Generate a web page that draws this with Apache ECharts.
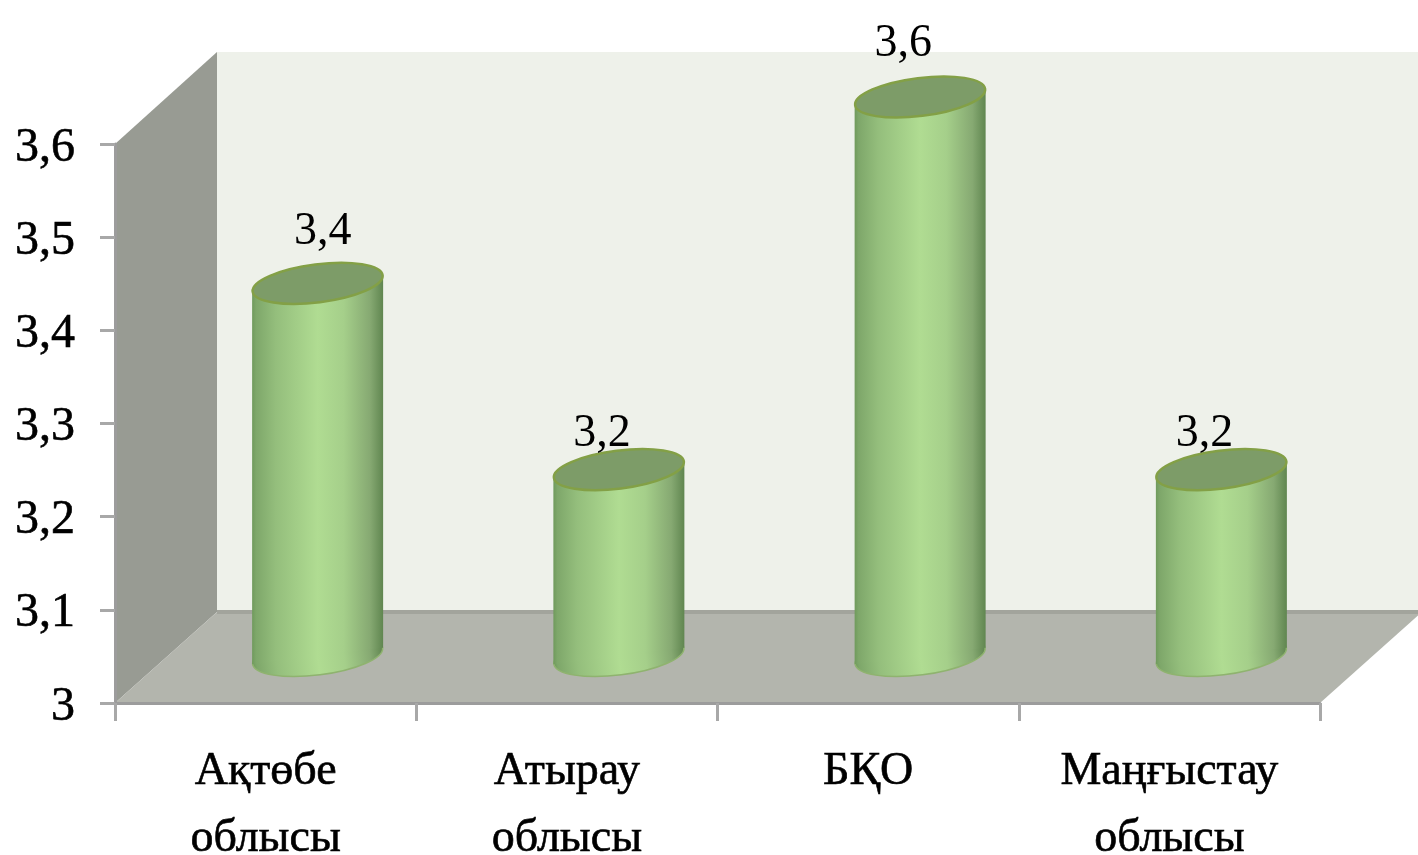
<!DOCTYPE html>
<html>
<head>
<meta charset="utf-8">
<title>chart</title>
<style>
  html, body { margin: 0; padding: 0; background: #fff; }
  #chart { width: 1418px; height: 855px; filter: blur(0.6px); }
</style>
<script src="https://cdn.jsdelivr.net/npm/echarts@6/dist/echarts.min.js"></script>
</head>
<body>
<div id="chart"></div>
<script>
var categories = ['Ақтөбе\nоблысы', 'Атырау\nоблысы', 'БҚО', 'Маңғыстау\nоблысы'];
var values = [3.4, 3.2, 3.6, 3.2];
var valueLabels = ['3,4', '3,2', '3,6', '3,2'];
var yTickLabels = ['3', '3,1', '3,2', '3,3', '3,4', '3,5', '3,6'];

var FONT = '"Liberation Serif", "Times New Roman", serif';
var DEPTH_X = 102, DEPTH_Y = 91;
// bars stand half way into the floor
var BAR_DX = 52, BAR_DY = 47;
var ELL_A = 65.5, ELL_B = 19, ELL_TILT = 7.2 * Math.PI / 180;
// the value labels are not centred over the bars in the original
var labelShift = [[5, -51], [-17, -36], [-17, -53], [-17, -36]];

function bodyFill(x0, x1) {
  return new echarts.graphic.LinearGradient(x0, 0, x1, 0, [
    { offset: 0, color: '#6f9a5c' },
    { offset: 0.03, color: '#7ea76a' },
    { offset: 0.18, color: '#94be7c' },
    { offset: 0.5, color: '#b0dc92' },
    { offset: 0.7, color: '#a5cf8a' },
    { offset: 0.9, color: '#86a972' },
    { offset: 1, color: '#608650' }
  ], true);
}

function renderWalls(params, api) {
  var g = params.coordSys;
  var l = g.x, t = g.y, r = g.x + g.width, b = g.y + g.height;
  return {
    type: 'group',
    children: [
      { type: 'polygon', shape: { points: [[l + DEPTH_X, t - DEPTH_Y - 1], [r + DEPTH_X, t - DEPTH_Y - 1], [r + DEPTH_X, b - DEPTH_Y], [l + DEPTH_X, b - DEPTH_Y]] },
        style: { fill: '#eef1ea' } },
      { type: 'polygon', shape: { points: [[l, t], [l + DEPTH_X, t - DEPTH_Y - 1], [l + DEPTH_X, b - DEPTH_Y], [l, b]] },
        style: { fill: '#989b93' } },
      { type: 'polygon', shape: { points: [[l, b], [l + DEPTH_X, b - DEPTH_Y], [r + DEPTH_X, b - DEPTH_Y], [r, b]] },
        style: { fill: '#b3b5ad' } },
      { type: 'line', shape: { x1: l + DEPTH_X, y1: b - DEPTH_Y, x2: r + DEPTH_X, y2: b - DEPTH_Y },
        style: { stroke: '#a2a49c', lineWidth: 4 } }
    ]
  };
}

function renderCylinder(params, api) {
  var i = api.value(0);
  var top = api.coord([i, api.value(1)]);
  var base = api.coord([i, 3]);
  var cx = top[0] + BAR_DX;
  var yTop = top[1] - BAR_DY;
  var yBase = base[1] - BAR_DY;
  var dy = ELL_A * Math.tan(ELL_TILT);
  var shift = labelShift[i];
  return {
    type: 'group',
    children: [
      { type: 'ellipse', x: cx, y: yBase, rotation: ELL_TILT,
        shape: { cx: 0, cy: 0, rx: ELL_A, ry: ELL_B },
        style: { fill: bodyFill(-ELL_A, ELL_A), stroke: '#8fb36f', lineWidth: 1.5 } },
      { type: 'polygon',
        shape: { points: [[cx - ELL_A, yTop + dy], [cx + ELL_A, yTop - dy], [cx + ELL_A, yBase - dy], [cx - ELL_A, yBase + dy]] },
        style: { fill: bodyFill(cx - ELL_A, cx + ELL_A) } },
      { type: 'ellipse', x: cx, y: yTop, rotation: ELL_TILT,
        shape: { cx: 0, cy: 0, rx: ELL_A, ry: ELL_B },
        style: { fill: '#7d9c68', stroke: '#83a046', lineWidth: 2.5 } },
      { type: 'text',
        style: { text: valueLabels[i], x: cx + shift[0], y: yTop + shift[1], fill: '#000',
          font: '46px ' + FONT, align: 'center', verticalAlign: 'middle' } }
    ]
  };
}

var chart = echarts.init(document.getElementById('chart'));
chart.setOption({
  animation: false,
  backgroundColor: '#fff',
  grid: { left: 115, top: 144, width: 1205, height: 559, containLabel: false, outerBoundsMode: 'none' },
  xAxis: {
    type: 'category',
    data: categories,
    axisLine: { show: true, lineStyle: { color: '#9c9c9c', width: 3 } },
    axisTick: { show: true, length: 18, lineStyle: { color: '#a8a8a8', width: 3 } },
    axisLabel: { color: '#000', fontFamily: FONT, fontSize: 46, lineHeight: 67, margin: 35, interval: 0,
      textBorderColor: '#000', textBorderWidth: 0.6 }
  },
  yAxis: {
    type: 'value',
    min: 3,
    max: 3.6,
    interval: 0.1,
    splitLine: { show: false },
    axisLine: { show: true, lineStyle: { color: '#9c9c9c', width: 3 } },
    axisTick: { show: true, length: 15, lineStyle: { color: '#a8a8a8', width: 3 } },
    axisLabel: {
      color: '#000', fontFamily: FONT, fontSize: 48, margin: 40, verticalAlign: 'top', lineHeight: 8,
      textBorderColor: '#000', textBorderWidth: 0.6,
      formatter: function (v) { return yTickLabels[Math.round((v - 3) * 10)]; }
    }
  },
  series: [
    { type: 'custom', z: -1, silent: true, clip: false, renderItem: renderWalls, data: [[0, 3]] },
    { type: 'custom', z: 3, silent: true, clip: false, renderItem: renderCylinder,
      data: values.map(function (v, i) { return [i, v]; }) }
  ]
});
</script>
</body>
</html>
